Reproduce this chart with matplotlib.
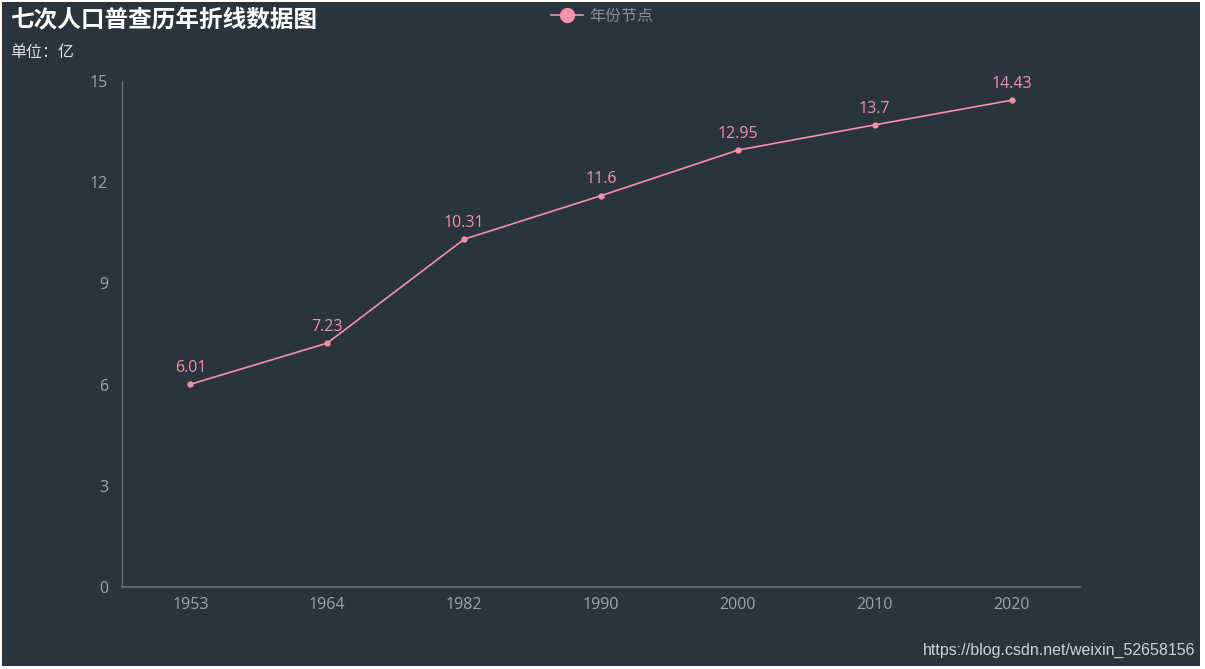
import matplotlib.pyplot as plt
from matplotlib.lines import Line2D
from matplotlib.patches import Rectangle

plt.rcParams['font.family'] = ['Noto Sans CJK SC', 'DejaVu Sans']

years = ["1953", "1964", "1982", "1990", "2000", "2010", "2020"]
population = [6.01, 7.23, 10.31, 11.6, 12.95, 13.7, 14.43]
y_ticks = [0, 3, 6, 9, 12, 15]

bg = "#29343f"
pink = "#f591a9"
axis_grey = "#6e7079"
label_grey = "#a0a5ab"
num_font = ["Open Sans", "DejaVu Sans"]

fig = plt.figure(figsize=(12.05, 6.69), dpi=100, facecolor="white")
# dark background with thin light frame like the screenshot
fig.patches.append(Rectangle((2 / 1205, 3 / 669), 1198 / 1205, 664 / 669,
                             transform=fig.transFigure, facecolor=bg,
                             edgecolor="none", zorder=-1))

ax = fig.add_axes([122 / 1205, 1 - 587 / 669, 958 / 1205, 506 / 669])
ax.set_zorder(2)
ax.patch.set_alpha(0)

x = list(range(len(years)))
ax.plot(x, population, color=pink, linewidth=1.2, marker="o", markersize=3.5,
        markerfacecolor=pink, markeredgecolor=pink, zorder=3)
for xi, v in zip(x, population):
    ax.annotate(f"{v:g}", (xi, v), xytext=(0, 6), textcoords="offset points",
                ha="center", va="bottom", color=pink, fontsize=11.5, family=num_font)

ax.set_xlim(-0.5, len(years) - 0.5)
ax.set_ylim(0, 15)
ax.set_xticks(x)
ax.set_xticklabels(years, family=num_font)
ax.set_yticks(y_ticks)
ax.set_yticklabels([str(t) for t in y_ticks], family=num_font)
ax.tick_params(axis="both", length=0, colors=label_grey, labelsize=11.5)
ax.tick_params(axis="x", pad=7)
ax.tick_params(axis="y", pad=10)

for side in ["top", "right"]:
    ax.spines[side].set_visible(False)
ax.spines["left"].set_color(axis_grey)
ax.spines["bottom"].set_color(axis_grey)
ax.spines["left"].set_linewidth(1)
ax.spines["bottom"].set_linewidth(1.2)

fig.text(10 / 1205, 1 - 20 / 669, "七次人口普查历年折线数据图", color="white",
         fontsize=17, fontweight="bold", va="center", ha="left", zorder=3)
fig.text(10 / 1205, 1 - 52 / 669, "单位：亿", color="#dddddd", fontsize=11.5,
         va="center", ha="left", zorder=3)

handle = Line2D([], [], color=pink, linewidth=1.2, marker="o", markersize=10,
                markerfacecolor=pink, markeredgecolor=pink)
leg = fig.legend([handle], ["年份节点"], loc="center", bbox_to_anchor=(602 / 1205, 1 - 16 / 669),
                 frameon=False, fontsize=11.5, handlelength=2.0, handletextpad=0.4)
leg.set_zorder(3)
for t in leg.get_texts():
    t.set_color("#8a8f96")

fig.text(1195 / 1205, 1 - 650 / 669, "https://blog.csdn.net/weixin_52658156",
         color="#cfd3d8", fontsize=11.5, ha="right", va="center",
         family=["Liberation Sans", "DejaVu Sans"], zorder=3)

fig.savefig("out.png", dpi=100, facecolor=fig.get_facecolor())
